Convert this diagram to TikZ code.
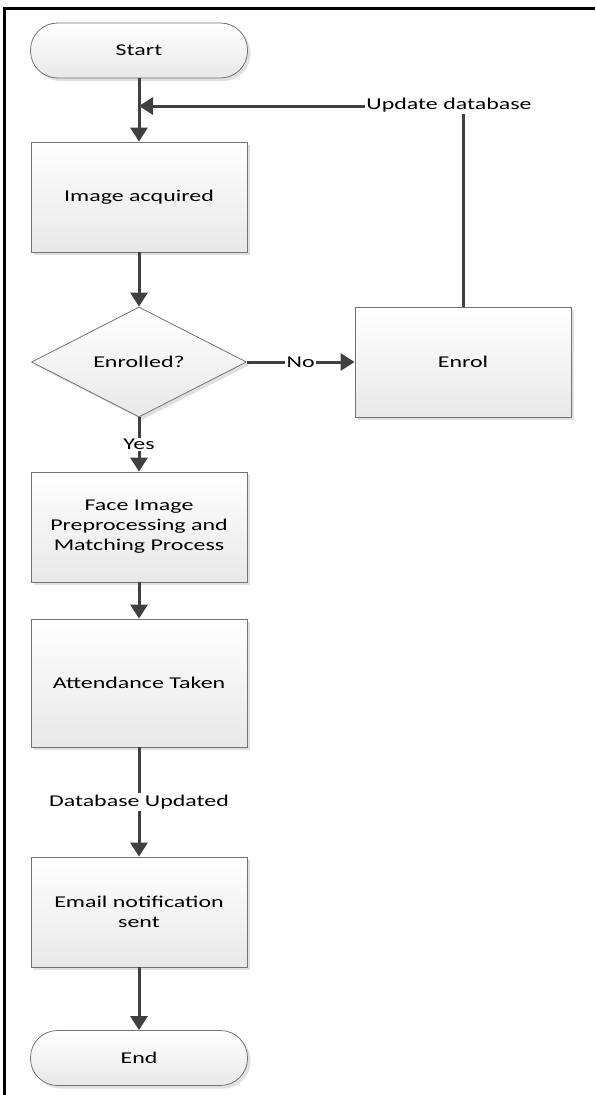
\documentclass[tikz,border=0pt]{standalone}
\usepackage{fontspec}
\setmainfont[FakeStretch=1.45]{Carlito}
\usetikzlibrary{shapes.geometric,shadows,arrows.meta}
\begin{document}
\begin{tikzpicture}[x=1pt,y=-1pt,
  font=\fontsize{16.5}{20}\selectfont,
  shape base/.style={draw=black!55, line width=0.8pt, top color=white, bottom color=black!9,
    drop shadow={shadow xshift=3pt, shadow yshift=-3pt, opacity=0.35, fill=black!35},
    align=center, inner sep=0pt},
  box/.style={shape base, rectangle, minimum width=216pt, minimum height=110pt},
  term/.style={shape base, rectangle, rounded corners=27pt, minimum width=217pt, minimum height=55pt},
  dec/.style={shape base, diamond, minimum width=215pt, minimum height=110pt, aspect=1.95},
  conn/.style={draw=black!75, line width=3pt},
  arr/.style={conn, -{Triangle[length=14pt,width=17pt]}},
  lab/.style={fill=white, inner sep=1.5pt}]
\useasboundingbox (0,0) rectangle (595,1095);
\draw[line width=2.5pt] (4.5,1095) -- (4.5,8.5) -- (595,8.5);

\node[term] (start) at (139,50.5) {Start};
\node[box] (img) at (139,197) {Image acquired};
\node[dec] (dia) at (139,362) {Enrolled?};
\node[box] (enrol) at (463,362) {Enrol};
\node[box] (face) at (139,527) {Face Image\\Preprocessing and\\Matching Process};
\node[box, minimum height=128pt] (att) at (139,683) {Attendance Taken};
\node[box] (email) at (139,912) {Email notification\\sent};
\node[term] (end) at (139,1058) {End};
\coordinate (j) at (139,106);
\coordinate (corner) at (463,106);

\draw[arr] (start) -- (img);
\draw[conn] (enrol.north) -- (corner);
\draw[arr] (corner) -- (j);
\node[lab] (upd) at (449,105) {Update database};
\draw[arr] (img) -- (dia);
\draw[arr] (dia) -- (enrol) node[lab, midway] {No};
\draw[arr] (dia) -- (face) node[lab, midway] {Yes};
\draw[arr] (face) -- (att);
\draw[arr] (att) -- (email) node[lab, midway] {Database Updated};
\draw[arr] (email) -- (end);
\end{tikzpicture}
\end{document}
